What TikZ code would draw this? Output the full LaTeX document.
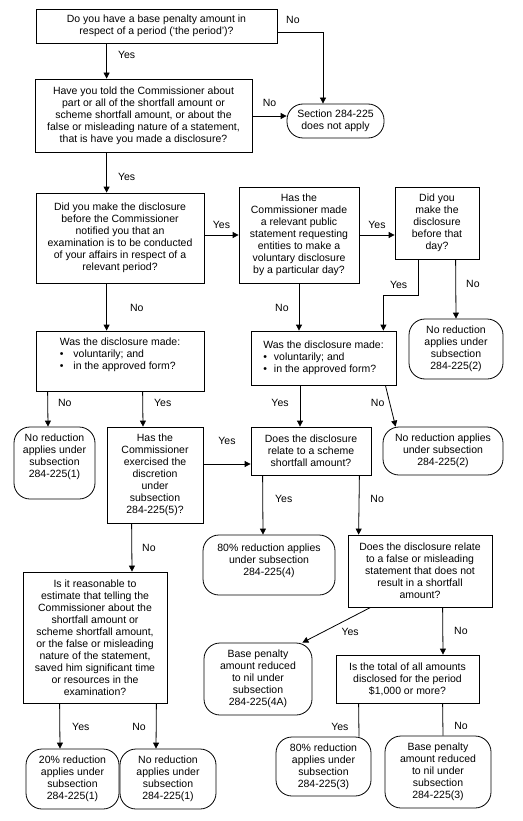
\documentclass[tikz,border=0pt]{standalone}
\usepackage{fontspec}
\setmainfont{Liberation Sans}
\usetikzlibrary{arrows.meta}

\begin{document}
\begin{tikzpicture}[x=1pt,y=-1pt,line width=0.8pt,
		every node/.style={font=\fontsize{10.5}{12}\selectfont},
		qbox/.style={draw, align=center, inner sep=0pt},
		ends/.style={draw, rounded corners=16pt, align=center, inner sep=0pt},
		arr/.style={-{Triangle[length=6pt,width=6pt]}},
		lbl/.style={inner sep=0pt}]
		\useasboundingbox (0,0) rectangle (522,821);

		% questions
		\node (Q1)[qbox, minimum width=241pt, minimum height=34pt] at (156.5,26) {Do you have a base penalty amount in\\respect of a period (‘the period’)?};
		\node (Q2)[qbox, minimum width=217pt, minimum height=73pt] at (143.5,115.5) {Have you told the Commissioner about\\part or all of the shortfall amount or\\scheme shortfall amount, or about the\\false or misleading nature of a statement,\\that is have you made a disclosure?};
		\node (Q3)[qbox, minimum width=168pt, minimum height=90pt] at (120,238) {Did you make the disclosure\\before the Commissioner\\notified you that an\\examination is to be conducted\\of your affairs in respect of a\\relevant period?};
		\node (Q4)[qbox, minimum width=120pt, minimum height=96pt] at (299,235) {Has the\\Commissioner made\\a relevant public\\statement requesting\\entities to make a\\voluntary disclosure\\by a particular day?};
		\node (Q5)[qbox, minimum width=84pt, minimum height=72pt] at (437,223) {Did you\\make the\\disclosure\\before that\\day?};
		\node (Q6)[qbox, align=left, text depth=14pt, minimum width=168pt, minimum height=60pt] at (120,361) {Was the disclosure made:\\•\hspace{10pt}voluntarily; and\\•\hspace{10pt}in the approved form?};
		\node (Q7)[qbox, align=left, minimum width=145pt, minimum height=54pt] at (323.5,358) {Was the disclosure made:\\•\hspace{7pt}voluntarily; and\\•\hspace{7pt}in the approved form?};
		\node (Q8)[qbox, minimum width=96pt, minimum height=96pt] at (155,475) {Has the\\Commissioner\\exercised the\\discretion\\under\\subsection\\284-225(5)?};
		\node (Q9)[qbox, minimum width=120pt, minimum height=48pt] at (311,451) {Does the disclosure\\relate to a scheme\\shortfall amount?};
		\node (Q10)[qbox, minimum width=144pt, minimum height=72pt] at (420,571) {Does the disclosure relate\\to a false or misleading\\statement that does not\\result in a shortfall\\amount?};
		\node (Q11)[qbox, minimum width=144pt, minimum height=131pt] at (95,637.5) {Is it reasonable to\\estimate that telling the\\Commissioner about the\\shortfall amount or\\scheme shortfall amount,\\or the false or misleading\\nature of the statement,\\saved him significant time\\or resources in the\\examination?};
		\node (Q12)[qbox, minimum width=143pt, minimum height=48pt] at (407.5,679) {Is the total of all amounts\\disclosed for the period\\\$1,000 or more?};

		% outcomes
		\node (S)[ends, minimum width=97pt, minimum height=34pt] at (335.5,121) {Section 284-225\\does not apply};
		\node (T2)[ends, minimum width=94pt, minimum height=60pt] at (456,349) {No reduction\\applies under\\subsection\\284-225(2)};
		\node (T3)[ends, text depth=14pt, minimum width=81pt, minimum height=72pt] at (54.5,463) {No reduction\\applies under\\subsection\\284-225(1)};
		\node (T4)[ends, minimum width=120pt, minimum height=48pt] at (443,451) {No reduction applies\\under subsection\\284-225(2)};
		\node (T5)[ends, text depth=10pt, minimum width=132pt, minimum height=60pt] at (269,565) {80\% reduction applies\\under subsection\\284-225(4)};
		\node (T6)[ends, minimum width=93pt, minimum height=60pt] at (72.5,779) {20\% reduction\\applies under\\subsection\\284-225(1)};
		\node (T7)[ends, minimum width=96pt, minimum height=60pt] at (168,779) {No reduction\\applies under\\subsection\\284-225(1)};
		\node (T8)[ends, minimum width=108pt, minimum height=72pt] at (258,679) {Base penalty\\amount reduced\\to nil under\\subsection\\284-225(4A)};
		\node (T9)[ends, minimum width=95pt, minimum height=59pt] at (323.5,766.5) {80\% reduction\\applies under\\subsection\\284-225(3)};
		\node (T10)[ends, minimum width=106pt, minimum height=72pt] at (438,772) {Base penalty\\amount reduced\\to nil under\\subsection\\284-225(3)};

		% connectors
		\draw[arr] ([xshift=71pt]Q1.south west) -- ([xshift=72pt]Q2.north west) node[lbl, pos=0.33, right=11pt] {Yes};
		\draw[arr] ([yshift=-6pt]Q1.east) -| ([xshift=-12.5pt]S.north) node[lbl, pos=0.17, above=8pt] {No};
		\draw[arr] ([yshift=-0.5pt]Q2.east) -- ([yshift=5pt]S.west) node[lbl, midway, above=9pt] {No};
		\draw[arr] ([xshift=72pt]Q2.south west) -- ([xshift=71pt]Q3.north west) node[lbl, pos=0.6, right=11pt] {Yes};
		\draw[arr] ([yshift=3pt]Q3.east) -- (Q4.west) node[lbl, midway, above=6pt] {Yes};
		\draw[arr] (Q4.east) -- ([yshift=-12pt]Q5.west) node[lbl, midway, above=6pt] {Yes};
		\draw[arr] ([xshift=24pt]Q5.south west) -- node[lbl, pos=0.7, left=11pt] {Yes} ++(0,36) -| ([xshift=-13pt]Q7.north east);
		\draw[arr] ([xshift=61pt]Q5.south west) -- (T2.north) node[lbl, pos=0.42, right=10pt] {No};
		\draw[arr] ([xshift=71pt]Q3.south west) -- ([xshift=71pt]Q6.north west) node[lbl, pos=0.52, right=23pt] {No};
		\draw[arr] (Q4.south) -- ([xshift=-24.5pt]Q7.north) node[lbl, pos=0.52, left=10pt] {No};
		\draw[arr] ([xshift=12pt]Q6.south west) -- ([xshift=-6.5pt]T3.north) node[lbl, pos=0.33, right=10pt] {No};
		\draw[arr] ([xshift=107pt]Q6.south west) -- ([xshift=-12pt]Q8.north) node[lbl, pos=0.33, right=11pt] {Yes};
		\draw[arr] ([yshift=11pt]Q8.east) -- ([yshift=-13pt]Q9.west) node[lbl, midway, above=19pt] {Yes};
		\draw[arr] ([xshift=-23.5pt]Q7.south) -- ([xshift=-11pt]Q9.north) node[lbl, pos=0.43, left=11pt] {Yes};
		\draw[arr] ([xshift=-11pt]Q7.south east) -- ([xshift=13pt]T4.north west) node[lbl, pos=0.43, left=5pt] {No};
		\draw[arr] ([xshift=12pt]Q9.south west) -- ([xshift=-6pt]T5.north) node[lbl, pos=0.4, right=12pt] {Yes};
		\draw[arr] ([xshift=-12pt]Q9.south east) -- ([xshift=11pt]Q10.north west) node[lbl, pos=0.4, right=11pt] {No};
		\draw[arr] ([xshift=25pt]Q8.south west) -- ([xshift=37pt]Q11.north) node[lbl, pos=0.5, right=10pt] {No};
		\draw[arr] ([xshift=37pt]Q11.south west) -- ([xshift=-12.5pt]T6.north) node[lbl, pos=0.52, right=12pt] {Yes};
		\draw[arr] ([xshift=-11pt]Q11.south east) -- ([xshift=-12pt]T7.north) node[lbl, pos=0.52, left=10pt] {No};
		\draw[arr] ([xshift=23pt]Q10.south west) -- ([xshift=-10pt]T8.north east) node[lbl, pos=0.3, below=9.5pt] {Yes};
		\draw[arr] ([xshift=95pt]Q10.south west) -- ([xshift=35.5pt]Q12.north) node[lbl, pos=0.5, right=11pt] {No};
		\draw ([xshift=23pt]Q12.south west) -- ([xshift=35.5pt]T9.north) node[lbl, pos=0.7, left=10pt] {Yes};
		\draw ([xshift=107pt]Q12.south west) -- ([xshift=5pt]T10.north) node[lbl, pos=0.7, right=11pt] {No};
	\end{tikzpicture}
\end{document}
